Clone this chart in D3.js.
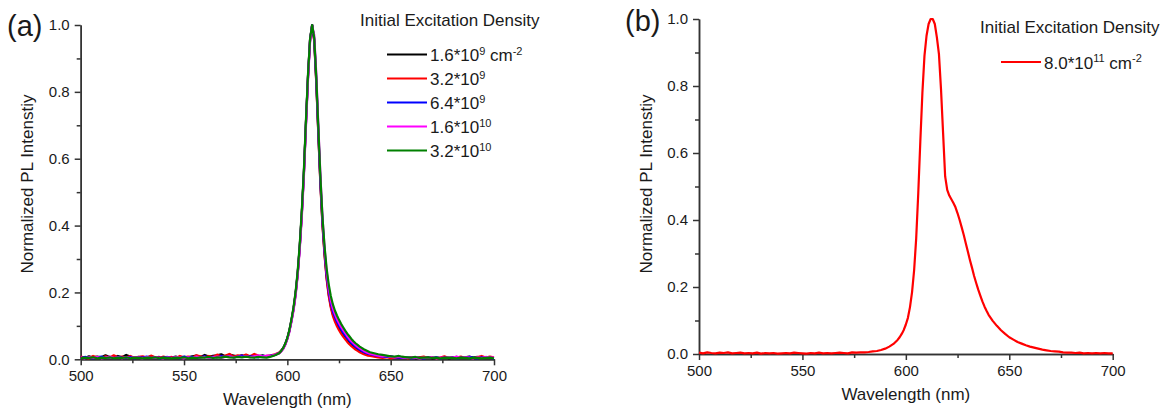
<!DOCTYPE html>
<html>
<head>
<meta charset="utf-8"/>
<style>
  body { margin: 0; background: #fff; }
  svg { display: block; }
  text { font-family: "Liberation Sans", Arial, sans-serif; fill: #1a1a1a; }
  .axis path, .axis line { stroke: #333; stroke-width: 1.5; }
</style>
</head>
<body>
<svg id="chart" width="1172" height="417"></svg>
<script src="https://cdn.jsdelivr.net/npm/d3@7/dist/d3.min.js"></script>
<script>
// Wavelength grid (nm), shared by every spectrum
var wavelengths = [
  500,502,504,506,508,510,512,514,516,518,
  520,522,524,526,528,530,532,534,536,538,
  540,542,544,546,548,550,552,554,556,558,
  560,562,564,566,568,570,572,574,576,578,
  580,582,584,586,588,590,592,594,596,
  597,598,599,600,601,602,603,604,605,606,
  607,608,609,610,611,612,613,614,615,616,
  617,618,619,620,621,622,623,624,625,626,
  627,628,629,630,631,632,633,634,635,636,
  637,638,639,640,
  642,644,646,648,650,652,654,656,658,660,
  662,664,666,668,670,672,674,676,678,680,
  682,684,686,688,690,692,694,696,698,700
];

// Panel (a): normalized PL for five excitation densities
var seriesA_black = [
  0.006,0.004,0.009,0.005,0.008,0.006,0.012,0.007,0.005,0.010,
  0.006,0.013,0.008,0.005,0.007,0.004,0.006,0.009,0.005,0.007,
  0.004,0.006,0.005,0.008,0.004,0.007,0.006,0.009,0.011,0.007,
  0.013,0.008,0.010,0.012,0.015,0.009,0.014,0.011,0.008,0.012,
  0.007,0.010,0.006,0.009,0.012,0.008,0.010,0.013,0.018,
  0.024,0.032,0.045,0.062,0.085,0.115,0.150,0.195,0.255,0.335,
  0.435,0.555,0.705,0.845,0.955,1.000,0.955,0.830,0.675,0.525,
  0.405,0.315,0.245,0.195,0.160,0.135,0.120,0.105,0.093,0.083,
  0.074,0.065,0.058,0.050,0.045,0.038,0.034,0.029,0.026,0.022,
  0.019,0.017,0.014,0.013,
  0.010,0.008,0.012,0.007,0.009,0.006,0.005,0.007,0.004,0.006,
  0.003,0.005,0.004,0.006,0.003,0.005,0.004,0.006,0.003,0.005,
  0.007,0.004,0.006,0.008,0.005,0.007,0.004,0.006,0.005,0.004
];
var seriesA_red = [
  0.008,0.005,0.003,0.010,0.006,0.004,0.009,0.005,0.012,0.006,
  0.008,0.005,0.010,0.004,0.007,0.009,0.005,0.011,0.006,0.004,
  0.008,0.005,0.007,0.004,0.010,0.006,0.008,0.005,0.012,0.009,
  0.006,0.010,0.007,0.014,0.009,0.011,0.016,0.008,0.012,0.010,
  0.014,0.009,0.016,0.011,0.009,0.010,0.012,0.015,0.020,
  0.026,0.034,0.046,0.063,0.087,0.118,0.152,0.198,0.258,0.338,
  0.438,0.558,0.708,0.848,0.958,1.000,0.952,0.825,0.670,0.520,
  0.400,0.310,0.240,0.190,0.155,0.130,0.113,0.099,0.087,0.077,
  0.068,0.060,0.052,0.045,0.039,0.034,0.029,0.025,0.021,0.018,
  0.015,0.013,0.011,0.010,
  0.008,0.006,0.004,0.006,0.003,0.005,0.004,0.007,0.003,0.005,
  0.004,0.006,0.008,0.004,0.006,0.003,0.005,0.009,0.004,0.006,
  0.005,0.008,0.004,0.006,0.003,0.007,0.010,0.005,0.008,0.006
];
var seriesA_blue = [
  0.004,0.007,0.005,0.003,0.006,0.008,0.004,0.006,0.003,0.007,
  0.005,0.004,0.007,0.003,0.006,0.005,0.008,0.004,0.006,0.003,
  0.005,0.007,0.004,0.006,0.003,0.008,0.005,0.007,0.004,0.006,
  0.009,0.005,0.007,0.006,0.010,0.007,0.009,0.006,0.008,0.011,
  0.007,0.009,0.008,0.006,0.010,0.009,0.011,0.013,0.019,
  0.025,0.033,0.046,0.063,0.086,0.117,0.151,0.197,0.257,0.337,
  0.437,0.557,0.707,0.847,0.957,1.000,0.958,0.835,0.680,0.530,
  0.412,0.322,0.252,0.203,0.168,0.143,0.127,0.112,0.100,0.090,
  0.080,0.071,0.063,0.056,0.049,0.043,0.038,0.033,0.029,0.025,
  0.022,0.019,0.017,0.015,
  0.012,0.010,0.008,0.007,0.009,0.006,0.005,0.004,0.006,0.003,
  0.005,0.004,0.003,0.005,0.004,0.006,0.003,0.005,0.004,0.006,
  0.003,0.005,0.004,0.007,0.005,0.003,0.006,0.004,0.005,0.003
];
var seriesA_magenta = [
  0.005,0.003,0.006,0.004,0.007,0.003,0.005,0.008,0.004,0.006,
  0.003,0.007,0.004,0.006,0.005,0.003,0.007,0.004,0.006,0.005,
  0.003,0.006,0.004,0.007,0.005,0.003,0.006,0.004,0.008,0.005,
  0.007,0.004,0.006,0.008,0.005,0.007,0.009,0.006,0.008,0.007,
  0.010,0.006,0.009,0.012,0.008,0.011,0.010,0.014,0.018,
  0.023,0.031,0.043,0.060,0.082,0.112,0.146,0.190,0.250,0.328,
  0.425,0.545,0.695,0.835,0.950,0.998,0.970,0.855,0.700,0.550,
  0.425,0.333,0.262,0.212,0.177,0.152,0.135,0.120,0.108,0.097,
  0.087,0.078,0.069,0.061,0.054,0.048,0.042,0.037,0.033,0.029,
  0.025,0.022,0.019,0.017,
  0.014,0.011,0.009,0.010,0.007,0.006,0.008,0.005,0.004,0.006,
  0.005,0.003,0.005,0.004,0.006,0.003,0.005,0.004,0.006,0.005,
  0.008,0.004,0.006,0.005,0.003,0.006,0.004,0.007,0.005,0.006
];
var seriesA_green = [
  0.003,0.005,0.004,0.006,0.003,0.005,0.004,0.006,0.003,0.005,
  0.004,0.006,0.003,0.005,0.004,0.003,0.005,0.004,0.006,0.003,
  0.005,0.004,0.003,0.005,0.004,0.006,0.003,0.005,0.004,0.006,
  0.005,0.007,0.004,0.006,0.005,0.008,0.006,0.005,0.007,0.006,
  0.008,0.006,0.005,0.007,0.006,0.005,0.008,0.012,0.018,
  0.025,0.034,0.047,0.064,0.088,0.120,0.156,0.202,0.264,0.345,
  0.446,0.566,0.715,0.853,0.960,1.000,0.962,0.845,0.692,0.545,
  0.425,0.338,0.272,0.225,0.190,0.165,0.146,0.131,0.118,0.106,
  0.096,0.086,0.077,0.069,0.061,0.054,0.048,0.043,0.038,0.034,
  0.030,0.027,0.024,0.021,
  0.018,0.015,0.013,0.011,0.009,0.008,0.010,0.007,0.006,0.005,
  0.007,0.004,0.005,0.006,0.004,0.005,0.003,0.004,0.005,0.004,
  0.003,0.005,0.004,0.003,0.005,0.004,0.003,0.004,0.005,0.003
];
var seriesNamesA = ["1.6*10^9 cm^-2", "3.2*10^9", "6.4*10^9", "1.6*10^10", "3.2*10^10"];
var seriesColorsA = ["#000000", "#ff0000", "#0000ff", "#ff00ff", "#008000"];

// Panel (b): single high-density spectrum
var seriesB_red = [
  0.004,0.002,0.005,0.003,0.002,0.004,0.003,0.005,0.002,0.003,
  0.004,0.002,0.003,0.002,0.004,0.001,0.003,0.002,0.003,0.001,
  0.002,0.003,0.002,0.004,0.003,0.002,0.001,0.003,0.002,0.004,
  0.002,0.003,0.002,0.003,0.004,0.003,0.002,0.005,0.004,0.005,
  0.005,0.006,0.008,0.009,0.012,0.016,0.022,0.030,0.042,
  0.050,0.060,0.072,0.088,0.108,0.140,0.185,0.250,0.345,0.480,
  0.635,0.780,0.890,0.950,0.985,1.000,1.000,0.985,0.945,0.895,
  0.790,0.660,0.530,0.490,0.473,0.462,0.451,0.438,0.420,0.400,
  0.378,0.355,0.330,0.305,0.280,0.257,0.233,0.212,0.192,0.174,
  0.157,0.142,0.129,0.117,
  0.099,0.084,0.071,0.060,0.050,0.043,0.036,0.031,0.026,0.022,
  0.019,0.016,0.013,0.011,0.009,0.008,0.007,0.005,0.004,0.004,
  0.003,0.004,0.002,0.003,0.002,0.003,0.002,0.003,0.002,0.002
];
var seriesNamesB = ["8.0*10^11 cm^-2"];
var seriesColorsB = ["#ff0000"];

var xTicks = [500, 550, 600, 650, 700];
var xMinorTicks = [525, 575, 625, 675];
var yTicks = [0.0, 0.2, 0.4, 0.6, 0.8, 1.0];
var yMinorTicks = [0.1, 0.3, 0.5, 0.7, 0.9];
var legendTitle = "Initial Excitation Density";
var xTitle = "Wavelength (nm)";
var yTitle = "Normalized PL Intenstiy";

var svg = d3.select("#chart");

var panels = [
  { tag: "(a)", tagX: 7, tagY: 36, x0: 80.7, x1: 494, y0: 359.3, y1: 25,
    series: [seriesA_black, seriesA_red, seriesA_blue, seriesA_magenta, seriesA_green],
    names: seriesNamesA, colors: seriesColorsA,
    legTitleX: 360, legTitleY: 26, legLineX: 387, legFirstY: 54.5, legStep: 24 },
  { tag: "(b)", tagX: 625, tagY: 31, x0: 699, x1: 1112.7, y0: 354, y1: 19,
    series: [seriesB_red],
    names: seriesNamesB, colors: seriesColorsB,
    legTitleX: 980, legTitleY: 33, legLineX: 1001, legFirstY: 62, legStep: 24 }
];

// writes "a^b c^d" as text with superscript tspans
function richText(sel, str) {
  var parts = str.split(/\^([^\s]+)/);
  var raised = false;
  parts.forEach(function(p, i) {
    if (p === "") return;
    var ts = sel.append("tspan").text(p);
    if (i % 2 === 1) {
      ts.attr("dy", -6.5).attr("font-size", 11);
      raised = true;
    } else if (raised) {
      ts.attr("dy", 6.5).attr("font-size", 17);
      raised = false;
    }
  });
}

panels.forEach(function(p) {
  var x = d3.scaleLinear().domain([500, 700]).range([p.x0, p.x1]);
  var y = d3.scaleLinear().domain([0, 1]).range([p.y0, p.y1]);
  var g = svg.append("g");

  // minor ticks first, then major ticks with labels
  g.append("g").attr("class", "axis").attr("transform", "translate(0," + p.y0 + ")")
    .call(d3.axisBottom(x).tickValues(xMinorTicks).tickSize(4).tickSizeOuter(0).tickFormat(""))
    .selectAll("text").remove();
  g.append("g").attr("class", "axis").attr("transform", "translate(" + p.x0 + ",0)")
    .call(d3.axisLeft(y).tickValues(yMinorTicks).tickSize(4).tickSizeOuter(0).tickFormat(""))
    .selectAll("text").remove();

  var xa = g.append("g").attr("class", "axis").attr("transform", "translate(0," + p.y0 + ")")
    .call(d3.axisBottom(x).tickValues(xTicks).tickSize(6).tickSizeOuter(0).tickPadding(5).tickFormat(d3.format("d")));
  var ya = g.append("g").attr("class", "axis").attr("transform", "translate(" + p.x0 + ",0)")
    .call(d3.axisLeft(y).tickValues(yTicks).tickSize(6).tickSizeOuter(0).tickPadding(5).tickFormat(d3.format(".1f")));
  [xa, ya].forEach(function(a) {
    a.selectAll("text").attr("font-size", 15).attr("font-family", "Liberation Sans, Arial, sans-serif").attr("fill", "#1a1a1a");
  });

  // axis titles
  g.append("text")
    .attr("x", (p.x0 + p.x1) / 2).attr("y", p.y0 + 46)
    .attr("text-anchor", "middle").attr("font-size", 17)
    .text(xTitle);
  g.append("text")
    .attr("transform", "translate(" + (p.x0 - 47.5) + "," + 184 + ") rotate(-90)")
    .attr("text-anchor", "middle").attr("font-size", 17)
    .text(yTitle);

  // panel tag
  g.append("text")
    .attr("x", p.tagX).attr("y", p.tagY)
    .attr("font-family", "Open Sans, sans-serif").attr("font-size", 29).attr("fill", "#111")
    .text(p.tag);

  // spectra
  var line = d3.line()
    .x(function(d, i) { return x(wavelengths[i]); })
    .y(function(d) { return y(d); });
  p.series.forEach(function(s, i) {
    g.append("path")
      .attr("d", line(s))
      .attr("fill", "none")
      .attr("stroke", p.colors[i])
      .attr("stroke-width", 2.2)
      .attr("stroke-linejoin", "round");
  });

  // legend
  g.append("text")
    .attr("x", p.legTitleX).attr("y", p.legTitleY)
    .attr("font-size", 17)
    .text(legendTitle);
  p.names.forEach(function(n, i) {
    var ly = p.legFirstY + i * p.legStep;
    g.append("line")
      .attr("x1", p.legLineX).attr("x2", p.legLineX + 40)
      .attr("y1", ly).attr("y2", ly)
      .attr("stroke", p.colors[i]).attr("stroke-width", 2);
    var t = g.append("text")
      .attr("x", p.legLineX + 43).attr("y", ly + 6.5)
      .attr("font-size", 17);
    richText(t, n);
  });
});
</script>
</body>
</html>
